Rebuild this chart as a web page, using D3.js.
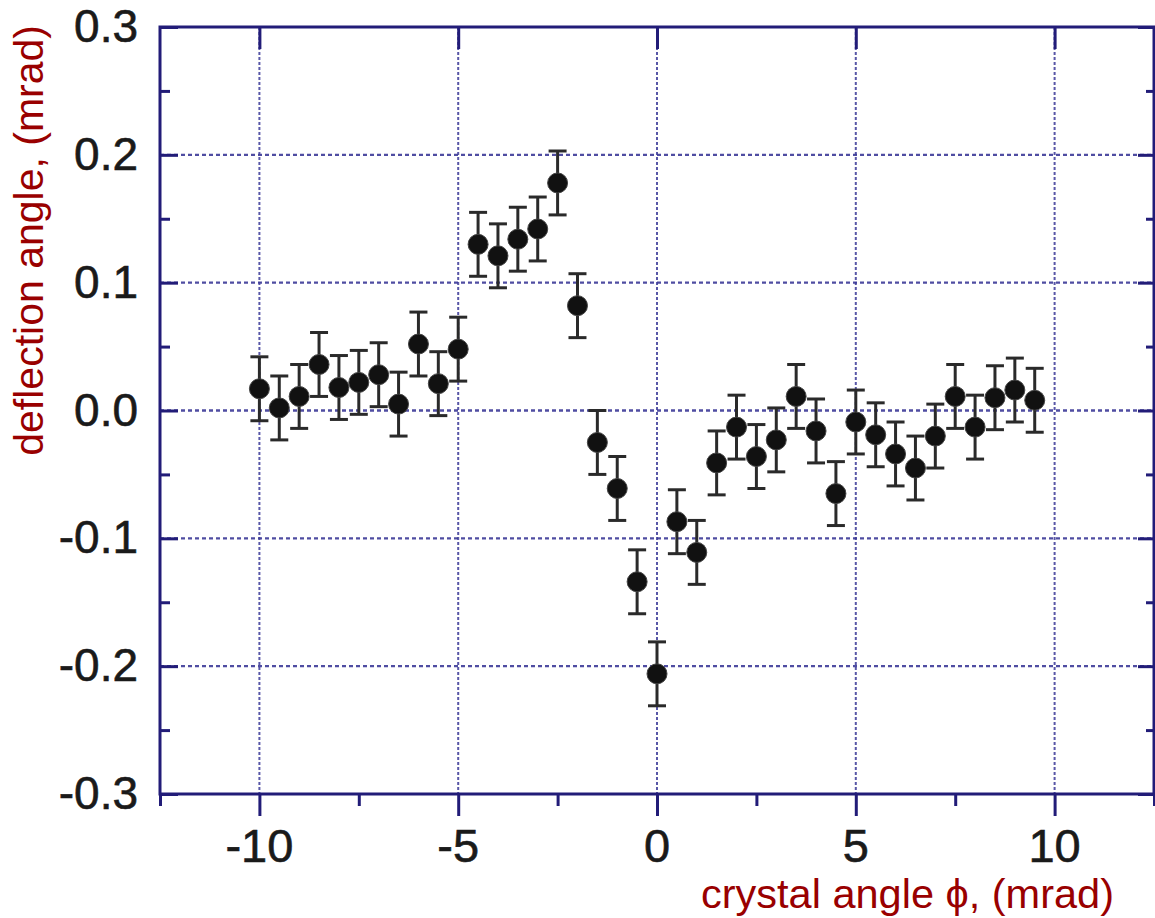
<!DOCTYPE html>
<html>
<head>
<meta charset="utf-8">
<script src="https://cdn.jsdelivr.net/npm/d3@7"></script>
<style>
  html, body { margin: 0; padding: 0; background: #fff; }
  svg { display: block; }
</style>
</head>
<body>
<svg id="chart" width="1155" height="918"></svg>
<script>
// ---- data ----
const crystalAngle = [-10, -9.5, -9, -8.5, -8, -7.5, -7, -6.5, -6, -5.5, -5, -4.5, -4, -3.5, -3, -2.5, -2, -1.5, -1, -0.5,
                      0, 0.5, 1, 1.5, 2, 2.5, 3, 3.5, 4, 4.5, 5, 5.5, 6, 6.5, 7, 7.5, 8, 8.5, 9, 9.5];
const deflection = [0.017, 0.002, 0.011, 0.036, 0.018, 0.022, 0.028, 0.005, 0.052, 0.021, 0.048, 0.130, 0.121, 0.134, 0.142, 0.178, 0.082, -0.025, -0.061, -0.134,
                    -0.206, -0.087, -0.111, -0.041, -0.013, -0.036, -0.023, 0.011, -0.016, -0.065, -0.009, -0.019, -0.034, -0.045, -0.020, 0.011, -0.013, 0.010, 0.016, 0.008];
const deflectionErr = [0.025, 0.025, 0.025, 0.025, 0.025, 0.025, 0.025, 0.025, 0.025, 0.025, 0.025, 0.025, 0.025, 0.025, 0.025, 0.025, 0.025, 0.025, 0.025, 0.025,
                       0.025, 0.025, 0.025, 0.025, 0.025, 0.025, 0.025, 0.025, 0.025, 0.025, 0.025, 0.025, 0.025, 0.025, 0.025, 0.025, 0.025, 0.025, 0.025, 0.025];
const xTicks = [-10, -5, 0, 5, 10];
const xTickLabels = ["-10", "-5", "0", "5", "10"];
const xMinorTicks = [-12.5, -7.5, -2.5, 2.5, 7.5, 12.5];
const yTicks = [-0.3, -0.2, -0.1, 0.0, 0.1, 0.2, 0.3];
const yTickLabels = ["-0.3", "-0.2", "-0.1", "0.0", "0.1", "0.2", "0.3"];
const yMinorTicks = [-0.25, -0.15, -0.05, 0.05, 0.15, 0.25];
const xTitle = "crystal angle \u03D5, (mrad)";
const yTitle = "deflection angle, (mrad)";

// ---- layout ----
const L = 160, R = 1154, T = 27, B = 794;
const frameColor = "#221c78";
const gridColor = "#3c3a98";
const titleColor = "#990000";

const svg = d3.select("#chart");
const x = d3.scaleLinear().domain([-12.5, 12.5]).range([L, R]);
const y = d3.scaleLinear().domain([-0.3, 0.3]).range([B, T]);

// grid
const grid = svg.append("g");
grid.selectAll("line.gx").data(xTicks).join("line")
  .attr("x1", d => x(d)).attr("x2", d => x(d))
  .attr("y1", T).attr("y2", B)
  .attr("stroke", gridColor).attr("stroke-width", 2).attr("stroke-dasharray", "3,2").attr("opacity", 0.85);
grid.selectAll("line.gy").data(yTicks.filter(d => d > -0.3 && d < 0.3)).join("line")
  .attr("x1", L).attr("x2", R)
  .attr("y1", d => y(d)).attr("y2", d => y(d))
  .attr("stroke", gridColor).attr("stroke-width", 2.4).attr("stroke-dasharray", "4,3").attr("opacity", 0.9);

// axes via d3 axis generators
const axisStyle = g => {
  g.select(".domain").remove();
  g.selectAll(".tick line").attr("stroke", frameColor).attr("stroke-width", 3);
  g.selectAll(".tick text").remove();
};
svg.append("g").attr("transform", `translate(0,${B})`)
  .call(d3.axisBottom(x).tickValues(xTicks).tickSize(22)).call(axisStyle);
svg.append("g").attr("transform", `translate(0,${B})`)
  .call(d3.axisBottom(x).tickValues(xMinorTicks).tickSize(12)).call(axisStyle);
svg.append("g").attr("transform", `translate(0,${T})`)
  .call(d3.axisBottom(x).tickValues(xTicks).tickSize(22)).call(axisStyle);
svg.append("g").attr("transform", `translate(${L},0)`)
  .call(d3.axisRight(y).tickValues(yTicks).tickSize(18)).call(axisStyle);
svg.append("g").attr("transform", `translate(${L},0)`)
  .call(d3.axisRight(y).tickValues(yMinorTicks).tickSize(10)).call(axisStyle);
svg.append("g").attr("transform", `translate(${R},0)`)
  .call(d3.axisLeft(y).tickValues(yTicks).tickSize(16)).call(axisStyle);
svg.append("g").attr("transform", `translate(${R},0)`)
  .call(d3.axisLeft(y).tickValues(yMinorTicks).tickSize(8)).call(axisStyle);

// frame
svg.append("rect").attr("x", L).attr("y", T).attr("width", R - L).attr("height", B - T)
  .attr("fill", "none").attr("stroke", frameColor).attr("stroke-width", 3);

// tick labels
const lblFont = "'Liberation Sans', Arial, sans-serif";
svg.append("g").selectAll("text").data(xTicks).join("text")
  .attr("x", d => x(d)).attr("y", 862)
  .attr("text-anchor", "middle")
  .attr("font-family", lblFont).attr("font-size", 47).attr("fill", "#1a1a1a")
  .attr("stroke", "#1a1a1a").attr("stroke-width", 0.6)
  .text((d, i) => xTickLabels[i]);
svg.append("g").selectAll("text").data(yTicks).join("text")
  .attr("x", 138).attr("y", d => y(d) + 15)
  .attr("text-anchor", "end")
  .attr("font-family", lblFont).attr("font-size", 46).attr("fill", "#1a1a1a")
  .attr("stroke", "#1a1a1a").attr("stroke-width", 0.6)
  .text((d, i) => yTickLabels[i]);

// titles
svg.append("text").attr("x", 1114).attr("y", 908).attr("text-anchor", "end")
  .attr("font-family", lblFont).attr("font-size", 41.5).attr("fill", titleColor)
  .text(xTitle);
svg.append("text").attr("transform", "translate(43,25) rotate(-90)").attr("text-anchor", "end")
  .attr("font-family", lblFont).attr("font-size", 41).attr("fill", titleColor)
  .text(yTitle);

// data
const pts = crystalAngle.map((a, i) => ({ a, v: deflection[i], e: deflectionErr[i] }));
const eb = svg.append("g").attr("stroke", "#2a2a2a").attr("stroke-width", 3);
eb.selectAll("line.v").data(pts).join("line")
  .attr("x1", d => x(d.a)).attr("x2", d => x(d.a))
  .attr("y1", d => y(d.v + d.e)).attr("y2", d => y(d.v - d.e));
eb.selectAll("line.t").data(pts).join("line")
  .attr("x1", d => x(d.a) - 9).attr("x2", d => x(d.a) + 9)
  .attr("y1", d => y(d.v + d.e)).attr("y2", d => y(d.v + d.e));
eb.selectAll("line.b").data(pts).join("line")
  .attr("x1", d => x(d.a) - 9).attr("x2", d => x(d.a) + 9)
  .attr("y1", d => y(d.v - d.e)).attr("y2", d => y(d.v - d.e));
svg.append("g").selectAll("circle").data(pts).join("circle")
  .attr("cx", d => x(d.a)).attr("cy", d => y(d.v)).attr("r", 10)
  .attr("fill", "#111").attr("stroke", "#444").attr("stroke-width", 1);
</script>
</body>
</html>
